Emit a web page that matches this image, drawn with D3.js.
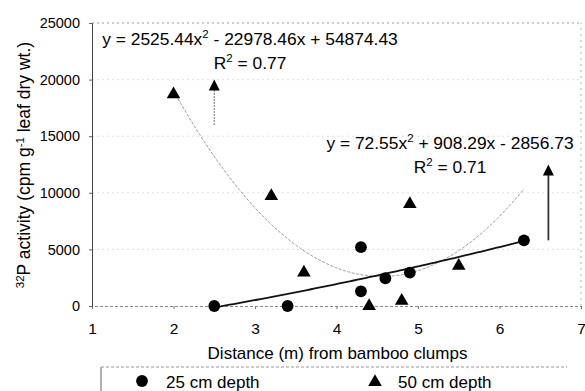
<!DOCTYPE html>
<html>
<head>
<meta charset="utf-8">
<script src="https://cdn.jsdelivr.net/npm/d3@7"></script>
<style>
  html, body { margin: 0; padding: 0; background: #fff; }
  svg { display: block; font-family: "Liberation Sans", Arial, sans-serif; }
</style>
</head>
<body>
<svg id="chart" width="585" height="391"></svg>
<script>
// Distance from bamboo clumps (m) and 32P activity (cpm per g leaf dry wt.)
const depth25X = [2.5, 3.4, 4.3, 4.3, 4.6, 4.9, 6.3];
const depth25Y = [0, 0, 5200, 1300, 2450, 2950, 5800];
const depth50X = [2.0, 3.2, 3.6, 4.4, 4.8, 4.9, 5.5];
const depth50Y = [18700, 9700, 2950, 0, 450, 9000, 3550];

// Quadratic trend lines: a*x^2 + b*x + c
const fit25 = [72.55, 908.29, -2856.73];
const fit50 = [2525.44, -22978.46, 54874.43];
const fit25Range = [2.5, 6.3];
const fit50Range = [2.0, 6.3];

const xTicks = [1, 2, 3, 4, 5, 6, 7];
const yTicks = [0, 5000, 10000, 15000, 20000, 25000];

const seriesNames = ["25 cm depth", "50 cm depth"];

// Call-out arrows pointing at the equations
const arrowX = [2.5, 6.6];
const arrowFrom = [16000, 5800];
const arrowTo = [20000, 12500];

const svg = d3.select("#chart");
const margin = { left: 92, right: 4, top: 23, bottom: 85 };
const W = 585, H = 391;

const x = d3.scaleLinear().domain([1, 7]).range([margin.left, W - margin.right]);
const y = d3.scaleLinear().domain([0, 25000]).range([H - margin.bottom, margin.top]);

const fmt = v => v.toFixed(2);

// faint dotted gridlines and frame
const grid = svg.append("g");
grid.selectAll("line.h").data(yTicks.filter(d => d > 0)).join("line")
  .attr("x1", x(1)).attr("x2", x(7))
  .attr("y1", d => y(d)).attr("y2", d => y(d))
  .attr("stroke", d => d === 25000 ? "#9a9a9a" : "#dedede")
  .attr("stroke-width", 1)
  .attr("stroke-dasharray", "2,3");
grid.append("line")
  .attr("x1", x(7)).attr("x2", x(7)).attr("y1", y(0)).attr("y2", y(25000))
  .attr("stroke", "#b0b0b0").attr("stroke-dasharray", "2,4");

// x axis (dotted baseline)
const xAxis = svg.append("g").attr("transform", `translate(0,${y(0)})`)
  .call(d3.axisBottom(x).tickValues(xTicks).tickSize(3).tickPadding(14).tickFormat(d3.format("d")));
xAxis.select(".domain").attr("stroke", "#8a8a8a").attr("stroke-dasharray", "3,2");
xAxis.selectAll(".tick line").attr("stroke", "#777");
xAxis.selectAll("text").attr("font-size", 15.5).attr("fill", "#000");

// y axis
const yAxis = svg.append("g").attr("transform", `translate(${x(1)},0)`)
  .call(d3.axisLeft(y).tickValues(yTicks).tickSize(3).tickPadding(9).tickFormat(d3.format("d")));
yAxis.select(".domain").attr("stroke", "#444");
yAxis.selectAll(".tick line").attr("stroke", "#666");
yAxis.selectAll("text").attr("font-size", 14.5).attr("fill", "#000");

// axis titles
svg.append("text")
  .attr("x", (x(1) + x(7)) / 2 + 1).attr("y", 359)
  .attr("text-anchor", "middle").attr("font-size", 17).attr("fill", "#000")
  .text("Distance (m) from bamboo clumps");

const yt = svg.append("text")
  .attr("transform", `translate(30,165) rotate(-90)`)
  .attr("text-anchor", "middle").attr("font-size", 17.5).attr("fill", "#000");
yt.append("tspan").attr("font-size", 11.5).attr("dy", -6).text("32");
yt.append("tspan").attr("dy", 6).text("P activity (cpm g");
yt.append("tspan").attr("font-size", 11.5).attr("dy", -6).text("-1");
yt.append("tspan").attr("dy", 6).text(" leaf dry wt.)");

// trend curves
const quad = (c, v) => c[0] * v * v + c[1] * v + c[2];
const curve = (c, r) => d3.range(r[0], r[1] + 1e-9, (r[1] - r[0]) / 80).map(v => [v, quad(c, v)]);
const line = d3.line().x(d => x(d[0])).y(d => y(d[1]));

svg.append("path").datum(curve(fit50, fit50Range))
  .attr("d", line).attr("fill", "none")
  .attr("stroke", "#9c9c9c").attr("stroke-width", 1).attr("stroke-dasharray", "3,1.5");
svg.append("path").datum(curve(fit25, fit25Range))
  .attr("d", line).attr("fill", "none")
  .attr("stroke", "#111").attr("stroke-width", 1.8);

// arrows
const arrows = arrowX.map((v, i) => ({ x: v, y0: arrowFrom[i], y1: arrowTo[i], i }));
const ag = svg.append("g");
ag.selectAll("line").data(arrows).join("line")
  .attr("x1", d => x(d.x)).attr("x2", d => x(d.x))
  .attr("y1", d => y(d.y0)).attr("y2", d => y(d.y1) + 10)
  .attr("stroke", d => d.i === 0 ? "#8a8a8a" : "#333")
  .attr("stroke-width", d => d.i === 0 ? 1.2 : 1.8)
  .attr("stroke-dasharray", d => d.i === 0 ? "2,1" : null);
ag.selectAll("path").data(arrows).join("path")
  .attr("d", d => {
    const cx = x(d.x), ty = y(d.y1);
    return `M${cx},${ty} L${cx - 5.5},${ty + 11} L${cx + 5.5},${ty + 11} Z`;
  })
  .attr("fill", "#000");

// markers
const circles = depth25X.map((v, i) => [v, depth25Y[i]]);
const tris = depth50X.map((v, i) => [v, depth50Y[i]]);
const triPath = d3.symbol().type(d3.symbolTriangle).size(80)();

svg.append("g").selectAll("path").data(tris).join("path")
  .attr("d", triPath)
  .attr("transform", d => `translate(${x(d[0])},${y(d[1])})`)
  .attr("fill", "#000");
svg.append("g").selectAll("circle").data(circles).join("circle")
  .attr("cx", d => x(d[0])).attr("cy", d => y(d[1])).attr("r", 5.9)
  .attr("fill", "#000");

// equations
function equation(c, r2, cx, baseline) {
  const t = svg.append("text").attr("x", cx).attr("y", baseline)
    .attr("text-anchor", "middle").attr("font-size", 17.4).attr("fill", "#000");
  const sgn = v => (v < 0 ? " - " : " + ");
  t.append("tspan").text(`y = ${fmt(c[0])}x`);
  t.append("tspan").attr("font-size", 11.5).attr("dy", -7).text("2");
  t.append("tspan").attr("dy", 7).text(`${sgn(c[1])}${fmt(Math.abs(c[1]))}x${sgn(c[2])}${fmt(Math.abs(c[2]))}`);
  const r = svg.append("text").attr("x", cx).attr("y", baseline + 24)
    .attr("text-anchor", "middle").attr("font-size", 17.4).attr("fill", "#000");
  r.append("tspan").text("R");
  r.append("tspan").attr("font-size", 11.5).attr("dy", -7).text("2");
  r.append("tspan").attr("dy", 7).text(` = ${r2}`);
}
equation(fit50, "0.77", 250, 45);
equation(fit25, "0.71", 450, 149);

// legend
const lg = svg.append("g");
lg.append("line").attr("x1", 101).attr("x2", 567).attr("y1", 367).attr("y2", 367)
  .attr("stroke", "#999").attr("stroke-dasharray", "3,2");
lg.append("line").attr("x1", 101).attr("x2", 101).attr("y1", 367).attr("y2", 391)
  .attr("stroke", "#999").attr("stroke-width", 1.5);
lg.append("circle").attr("cx", 142).attr("cy", 381).attr("r", 5.9).attr("fill", "#000");
lg.append("text").attr("x", 166).attr("y", 388).attr("font-size", 17).attr("fill", "#000").text(seriesNames[0]);
lg.append("path").attr("d", triPath).attr("transform", "translate(375,382)").attr("fill", "#000");
lg.append("text").attr("x", 398).attr("y", 388).attr("font-size", 17).attr("fill", "#000").text(seriesNames[1]);
</script>
</body>
</html>
